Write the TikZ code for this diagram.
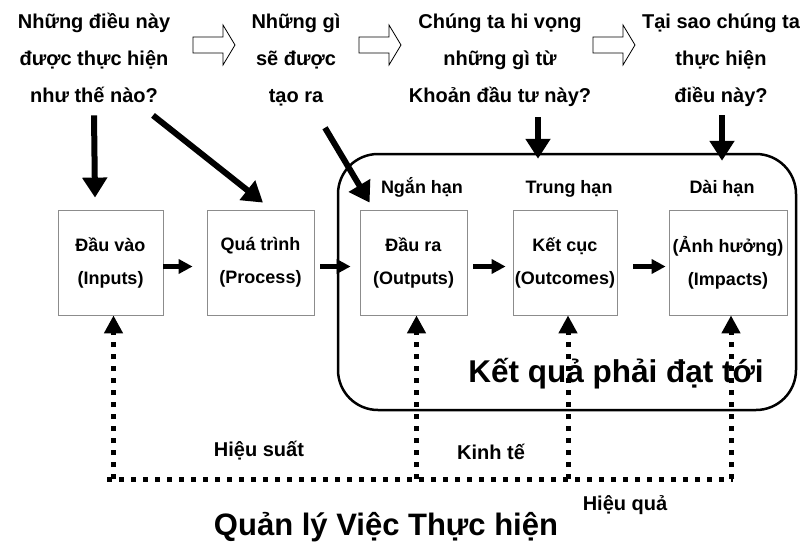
\documentclass[tikz,border=0pt]{standalone}
\usepackage{fontspec}
\setmainfont{Liberation Sans}
\usetikzlibrary{arrows.meta}
\begin{document}
\begin{tikzpicture}[x=1pt,y=-1pt,
	qtext/.style={font=\fontsize{20}{37}\selectfont\bfseries,align=center,inner sep=0pt,anchor=base},
	stage/.style={draw=black!45,line width=.8pt,minimum width=105pt,minimum height=105pt,align=center,inner sep=0pt,font=\fontsize{18}{33}\selectfont\bfseries},
	term/.style={font=\fontsize{18}{20}\selectfont\bfseries,inner sep=0pt,anchor=base},
	lbl/.style={font=\fontsize{20}{22}\selectfont\bfseries,inner sep=0pt,anchor=base},
	hollow/.style={line width=.8pt,line join=miter},
	bigarr/.style={line width=6pt,-{Triangle[length=20pt,width=24pt]}},
	smallarr/.style={line width=4.5pt,-{Triangle[length=14pt,width=14pt]}},
	dotline/.style={line width=5pt,dash pattern=on 5pt off 7pt},
	dotarr/.style={dotline,-{Triangle[length=18pt,width=18pt]}}]
	\useasboundingbox (0,0) rectangle (809,552);
	\node[qtext] (q1) at (94,102) {Những điều này\\được thực hiện\\như thế nào?};
	\node[qtext] (q2) at (296,102) {Những gì\\sẽ được\\tạo ra};
	\node[qtext] (q3) at (500,102) {Chúng ta hi vọng\\những gì từ\\Khoản đầu tư này?};
	\node[qtext] (q4) at (721,102) {Tại sao chúng ta\\thực hiện\\điều này?};
	\foreach \x in {193,359,593}
		\draw[hollow] (\x,37)--++(30,0)--++(0,-12)--++(12,20)--++(-12,20)--++(0,-12)--++(-30,0)--cycle;
	\node[draw,line width=2.5pt,rounded corners=40pt,minimum width=458pt,minimum height=256pt,inner sep=0pt] (res) at (567,282) {};
	\node[font=\fontsize{31.5}{33}\selectfont\bfseries,inner sep=0pt,anchor=base] (restxt) at (616,382) {Kết quả phải đạt tới};
	\node[stage] (inp) at (110.5,262.5) {Đầu vào\\(Inputs)};
	\node[stage,minimum width=107pt] (proc) at (260.5,262.5) {Quá trình\\(Process)};
	\node[stage,minimum width=107pt] (outp) at (413.5,262.5) {Đầu ra\\(Outputs)};
	\node[stage,minimum width=104pt] (outc) at (565,262.5) {Kết cục\\(Outcomes)};
	\node[stage,minimum width=118pt] (imp) at (728,262.5) {(Ảnh hưởng)\\(Impacts)};
	\node[term] (short) at (422,193) {Ngắn hạn};
	\node[term] (mid) at (569,193) {Trung hạn};
	\node[term] (long) at (722,193) {Dài hạn};
	\draw[bigarr] ([yshift=-13pt]q1.south) -- ([xshift=-15.5pt,yshift=12pt]inp.north);
	\draw[bigarr] ([xshift=59pt,yshift=-13pt]q1.south) -- ([xshift=2.5pt,yshift=7pt]proc.north);
	\draw[bigarr] ([xshift=29pt,yshift=-22pt]q2.south) -- ([xshift=10pt,yshift=7pt]outp.north west);
	\draw[bigarr] ([xshift=38pt,yshift=-11pt]q3.south) -- ([xshift=-29pt,yshift=-6pt]res.north);
	\draw[bigarr] ([xshift=1pt,yshift=-9pt]q4.south) -- ([xshift=155pt,yshift=-8pt]res.north);
	\draw[smallarr] ([yshift=-4pt]inp.east) -- ([xshift=-14pt,yshift=-4pt]proc.west);
	\draw[smallarr] ([xshift=6pt,yshift=-4pt]proc.east) -- ([xshift=-9pt,yshift=-4pt]outp.west);
	\draw[smallarr] ([xshift=6pt,yshift=-4pt]outp.east) -- ([xshift=-7pt,yshift=-4pt]outc.west);
	\draw[smallarr] ([xshift=16pt,yshift=-4pt]outc.east) -- ([xshift=-3pt,yshift=-4pt]imp.west);
	\coordinate (fbl) at (107,479);
	\coordinate (fbr) at (733,479);
	\draw[dotline] (fbl) -- (fbr);
	\foreach \b in {inp,outp,outc,imp}
		\draw[dotarr] ([xshift=3pt]\b.south |- fbl) -- ([xshift=3pt]\b.south);
	\node[lbl] (eff) at (259,456) {Hiệu suất};
	\node[lbl] (eco) at (491,459) {Kinh tế};
	\node[lbl] (effc) at (625,510) {Hiệu quả};
	\node[font=\fontsize{31}{33}\selectfont\bfseries,inner sep=0pt,anchor=base] (pm) at (386,535) {Quản lý Việc Thực hiện};
\end{tikzpicture}
\end{document}
